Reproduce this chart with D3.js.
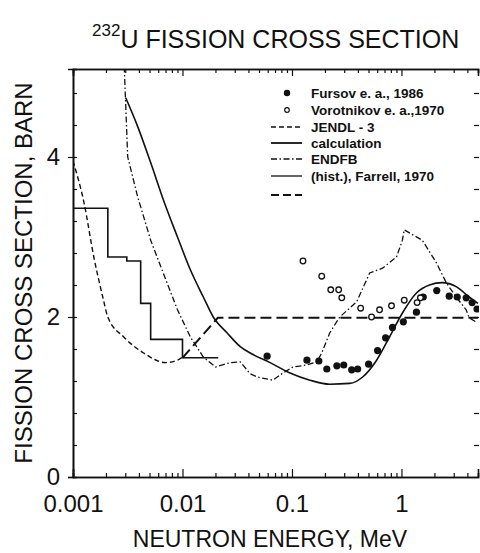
<!DOCTYPE html>
<html>
<head>
<meta charset="utf-8">
<script src="https://cdnjs.cloudflare.com/ajax/libs/d3/7.8.5/d3.min.js"></script>
<style>
body { margin: 0; background: #fff; }
text { font-family: "Liberation Sans", Arial, sans-serif; fill: #111; }
</style>
</head>
<body>
<div id="chart"></div>
<script>
//Data: [energy MeV, cross section barn]
var fursov = [[0.0593,1.51],[0.137,1.46],[0.176,1.45],[0.208,1.35],[0.257,1.39],[0.297,1.40],[0.351,1.34],
  [0.398,1.35],[0.501,1.41],[0.605,1.58],[0.716,1.74],[0.828,1.87],[1.04,1.94],[1.37,2.06],[1.58,2.25],
  [2.1,2.33],[2.73,2.26],[3.23,2.25],[3.9,2.24],[4.42,2.18],[4.9,2.10]];
var vorotnikov = [[0.126,2.70],[0.187,2.51],[0.226,2.34],[0.267,2.34],[0.285,2.24],[0.424,2.11],[0.533,2.00],
  [0.631,2.09],[0.811,2.14],[1.06,2.21],[1.39,2.18],[1.49,2.24]];
var jendl = [[0.001,3.95],[0.00126,3.43],[0.00155,2.75],[0.00187,2.25],[0.00208,2.0],[0.00291,1.75],
  [0.00442,1.55],[0.007,1.43],[0.009,1.46],[0.01,1.50]];
var calculation = [[0.00303,4.74],[0.0039,4.38],[0.00512,3.93],[0.00671,3.46],[0.009,3.0],[0.0118,2.59],
  [0.0155,2.25],[0.0191,2.0],[0.0256,1.8],[0.0337,1.63],[0.0415,1.55],[0.0631,1.43],[0.096,1.30],
  [0.146,1.21],[0.221,1.16],[0.337,1.17],[0.442,1.25],[0.593,1.46],[0.778,1.75],[1.02,2.05],[1.37,2.30],
  [1.8,2.40],[2.36,2.43],[3.16,2.38],[4.15,2.25],[5.0,2.17]];
var endfb = [[0.00285,5.6],[0.00316,4.0],[0.0039,3.5],[0.00512,2.96],[0.00671,2.54],[0.009,2.09],
  [0.0118,1.75],[0.0155,1.50],[0.020,1.375],[0.0273,1.43],[0.0337,1.44],[0.0415,1.29],[0.048,1.25],
  [0.067,1.21],[0.0828,1.30],[0.102,1.375],[0.137,1.40],[0.169,1.44],[0.187,1.55],[0.221,1.80],
  [0.273,2.0],[0.39,2.19],[0.512,2.55],[0.671,2.61],[0.901,2.75],[1.02,2.96],[1.06,3.09],[1.26,3.03],
  [1.55,2.96],[2.08,2.68],[2.56,2.43],[3.16,2.25],[3.9,2.09],[4.15,1.99],[4.91,1.93]];
var farrellEdges = [0.001, 0.00208, 0.0031, 0.00415, 0.00512, 0.01, 0.0212];
var farrellValues = [3.36, 2.75, 2.70, 2.17, 1.72, 1.49];
var longDash = [[0.01,1.49],[0.021,1.99],[5,1.99]];

var xTickValues = [0.001, 0.01, 0.1, 1];
var xTickLabels = ["0.001", "0.01", "0.1", "1"];
var yTickValues = [0, 2, 4];
var legendNames = ["Fursov e. a., 1986", "Vorotnikov e. a.,1970", "JENDL - 3", "calculation", "ENDFB", "(hist.), Farrell, 1970", ""];

//Width and height
var w = 480;
var h = 553;

var xScale = d3.scaleLog()
               .domain([0.001, 5])
               .range([73, 478]);
var yScale = d3.scaleLinear()
               .domain([0, 5.1])
               .range([477, 69]);

var svg = d3.select("#chart")
            .append("svg")
            .attr("width", w)
            .attr("height", h);

//Clip to the plot frame
svg.append("clipPath")
   .attr("id", "plot-area")
   .append("rect")
   .attr("x", 73)
   .attr("y", 69)
   .attr("width", 406)
   .attr("height", 408);

//Minor tick values
var xMinor = [];
[0.001, 0.01, 0.1, 1].forEach(function(d) {
  for (var i = 2; i <= 9; i++) { if (d * i <= 5) xMinor.push(d * i); }
});
var yMinor = d3.range(1, 13).map(function(i) { return +(i * 0.4).toFixed(1); });

//Bottom axis
svg.append("g")
   .attr("class", "axis")
   .attr("transform", "translate(0," + 477 + ")")
   .call(d3.axisBottom(xScale).tickValues(xMinor).tickSize(-4).tickFormat(""));
svg.append("g")
   .attr("class", "axis labels")
   .attr("transform", "translate(0," + 477 + ")")
   .call(d3.axisBottom(xScale).tickValues(xTickValues).tickSize(-8).tickPadding(18)
     .tickFormat(function(d, i) { return xTickLabels[i]; }));

//Top axis
svg.append("g")
   .attr("class", "axis")
   .attr("transform", "translate(0," + 69 + ")")
   .call(d3.axisTop(xScale).tickValues(xMinor).tickSize(-4).tickFormat(""));
svg.append("g")
   .attr("class", "axis")
   .attr("transform", "translate(0," + 69 + ")")
   .call(d3.axisTop(xScale).tickValues(xTickValues).tickSize(-7).tickFormat(""));

//Left axis
svg.append("g")
   .attr("class", "axis")
   .attr("transform", "translate(" + 73 + ",0)")
   .call(d3.axisLeft(yScale).tickValues(yMinor).tickSize(-4).tickFormat(""));
svg.append("g")
   .attr("class", "axis labels")
   .attr("transform", "translate(" + 73 + ",0)")
   .call(d3.axisLeft(yScale).tickValues(yTickValues).tickSize(5).tickPadding(8).tickFormat(d3.format("d")));

//Right ticks only
var right = svg.append("g")
   .attr("class", "axis noline")
   .attr("transform", "translate(" + 479 + ",0)")
   .call(d3.axisRight(yScale).tickValues(yMinor).tickSize(-5).tickFormat(""));
right.select(".domain").remove();

svg.selectAll(".axis .domain").attr("stroke", "#111").attr("stroke-width", 1.6);
svg.selectAll(".axis line").attr("stroke", "#111").attr("stroke-width", 1.2);
svg.selectAll(".axis.labels text")
   .attr("font-family", "'Liberation Sans', Arial, sans-serif")
   .attr("font-size", "24px")
   .attr("fill", "#111");

//Curves
var line = d3.line()
             .x(function(d) { return xScale(d[0]); })
             .y(function(d) { return yScale(d[1]); });
var smoothLine = d3.line()
             .curve(d3.curveMonotoneX)
             .x(function(d) { return xScale(d[0]); })
             .y(function(d) { return yScale(d[1]); });
var stepLine = d3.line()
             .curve(d3.curveStepAfter)
             .x(function(d) { return xScale(d[0]); })
             .y(function(d) { return yScale(d[1]); });

var farrell = farrellEdges.map(function(e, i) {
  return [e, farrellValues[Math.min(i, farrellValues.length - 1)]];
});

var curves = svg.append("g").attr("clip-path", "url(#plot-area)");

curves.append("path").datum(farrell)
   .attr("d", stepLine).attr("fill", "none")
   .attr("stroke", "#111").attr("stroke-width", 1.6);
curves.append("path").datum(jendl)
   .attr("d", smoothLine).attr("fill", "none")
   .attr("stroke", "#111").attr("stroke-width", 1.4).attr("stroke-dasharray", "5,3");
curves.append("path").datum(longDash)
   .attr("d", line).attr("fill", "none")
   .attr("stroke", "#111").attr("stroke-width", 2).attr("stroke-dasharray", "11,5");
curves.append("path").datum(endfb)
   .attr("d", line).attr("fill", "none")
   .attr("stroke", "#111").attr("stroke-width", 1.3).attr("stroke-dasharray", "6,2.5,1.5,2.5");
curves.append("path").datum(calculation)
   .attr("d", smoothLine).attr("fill", "none")
   .attr("stroke", "#111").attr("stroke-width", 1.6);

//Points
curves.selectAll("circle.fursov")
   .data(fursov)
   .enter()
   .append("circle")
   .attr("class", "fursov")
   .attr("cx", function(d) { return xScale(d[0]); })
   .attr("cy", function(d) { return yScale(d[1]); })
   .attr("r", 3.6)
   .attr("fill", "#111");
curves.selectAll("circle.vorotnikov")
   .data(vorotnikov)
   .enter()
   .append("circle")
   .attr("class", "vorotnikov")
   .attr("cx", function(d) { return xScale(d[0]); })
   .attr("cy", function(d) { return yScale(d[1]); })
   .attr("r", 2.8)
   .attr("fill", "#fff")
   .attr("stroke", "#111")
   .attr("stroke-width", 1.3);

//Legend
var legendY = [93, 110, 127, 143, 159, 176, 195];
var legend = svg.append("g").attr("class", "legend");
var rows = legend.selectAll("g")
   .data(legendNames)
   .enter()
   .append("g")
   .attr("transform", function(d, i) { return "translate(0," + legendY[i] + ")"; });
rows.append("text")
   .attr("x", 311)
   .attr("dy", "0.35em")
   .attr("font-size", "13.5px")
   .attr("font-weight", "bold")
   .text(function(d) { return d; });

rows.each(function(d, i) {
  var g = d3.select(this);
  if (i === 0) {
    g.append("circle").attr("cx", 287).attr("cy", 0).attr("r", 3.2).attr("fill", "#111");
  } else if (i === 1) {
    g.append("circle").attr("cx", 287).attr("cy", 0).attr("r", 2.3)
     .attr("fill", "#fff").attr("stroke", "#111").attr("stroke-width", 1.2);
  } else {
    var dash = [null, null, "5,3", null, "6,2.5,1.5,2.5", null, "8,4"][i];
    var sw = [0, 0, 1.6, 1.8, 1.4, 1.3, 2.2][i];
    g.append("line")
     .attr("x1", 271).attr("x2", 302)
     .attr("y1", 0).attr("y2", 0)
     .attr("stroke", "#111")
     .attr("stroke-width", sw)
     .attr("stroke-dasharray", dash);
  }
});

//Title
var title = svg.append("text")
   .attr("x", 92)
   .attr("y", 48)
   .attr("font-size", "25px");
title.append("tspan")
   .attr("font-size", "17px")
   .attr("dy", "-12")
   .text("232");
title.append("tspan")
   .attr("dy", "12")
   .text("U FISSION CROSS SECTION");

//Axis titles
svg.append("text")
   .attr("x", 270)
   .attr("y", 547)
   .attr("text-anchor", "middle")
   .attr("font-size", "23px")
   .text("NEUTRON ENERGY, MeV");

svg.append("text")
   .attr("transform", "translate(32," + 273 + ") rotate(-90)")
   .attr("text-anchor", "middle")
   .attr("font-size", "24px")
   .text("FISSION CROSS SECTION, BARN");
</script>
</body>
</html>
